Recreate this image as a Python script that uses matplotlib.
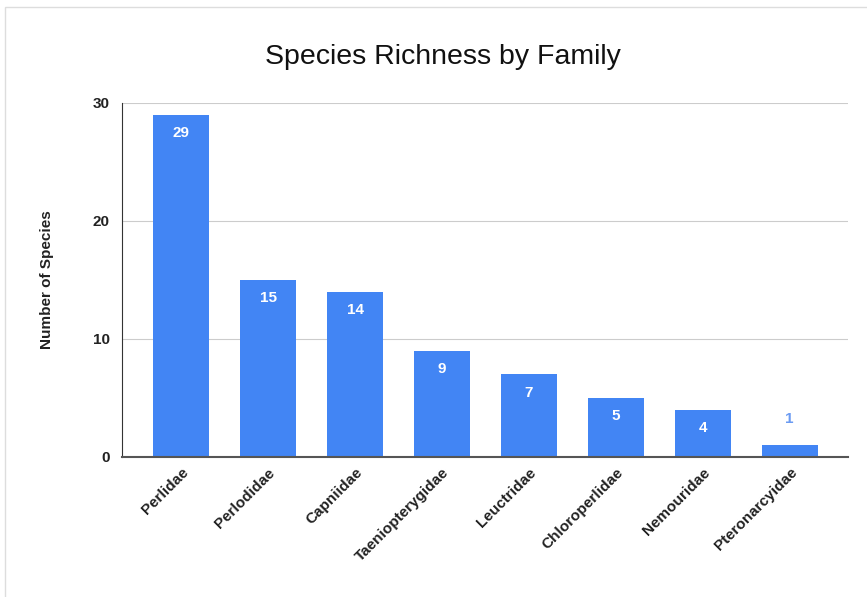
import matplotlib
matplotlib.use("Agg")
import matplotlib.pyplot as plt
from matplotlib.patches import Rectangle

families = ["Perlidae", "Perlodidae", "Capniidae", "Taeniopterygidae",
            "Leuctridae", "Chloroperlidae", "Nemouridae", "Pteronarcyidae"]
species = [29, 15, 14, 9, 7, 5, 4, 1]
yticks = [0, 10, 20, 30]

plt.rcParams['font.family'] = ['Liberation Sans', 'DejaVu Sans']

fig = plt.figure(figsize=(8.67, 5.97), dpi=100)
ax = fig.add_axes([122/867, 1-457/597, (848-122)/867, (457-103)/597])

blue = "#4285F4"
x = list(range(len(families)))
bars = ax.bar(x, species, width=0.64, color=blue, zorder=3)

for xi, v in zip(x, species):
    if v >= 3:
        ax.annotate(str(v), (xi, v), xytext=(0, -8), textcoords="offset points",
                    ha="center", va="top", color="white", fontsize=11, fontweight="bold", zorder=4)
    else:
        ax.annotate(str(v), (xi, v), xytext=(0, 14), textcoords="offset points",
                    ha="center", va="bottom", color="#6b9bf2", fontsize=11, fontweight="bold", zorder=4)

ax.set_xlim(-0.68, len(families) - 1 + 0.67)
ax.set_ylim(0, 30)
ax.set_yticks(yticks)
ax.set_yticklabels([str(t) for t in yticks], fontsize=11, fontweight="bold", color="#222222")
ax.set_xticks(x)
ax.set_xticklabels(families, rotation=45, ha="right", rotation_mode="anchor",
                   fontsize=11, fontweight="bold", color="#222222")
ax.tick_params(axis="y", length=0, pad=9)
ax.tick_params(axis="x", length=0, pad=6)

ax.grid(axis="y", color="#cccccc", linewidth=0.8, zorder=0)
for s in ["top", "right"]:
    ax.spines[s].set_visible(False)
ax.spines["left"].set_color("#333333")
ax.spines["left"].set_linewidth(0.8)
ax.spines["bottom"].set_color("#555555")
ax.spines["bottom"].set_linewidth(1.5)
ax.spines["bottom"].set_zorder(5)

ax.set_ylabel("Number of Species", fontsize=11, fontweight="bold", color="#222222", labelpad=28)
fig.text(443/867, 1-57/597, "Species Richness by Family", ha="center", va="center",
         fontsize=20.5, color="#111111")

fig.patches.append(Rectangle((5/867, -0.01), 1.0, 1-7/597 + 0.01, transform=fig.transFigure,
                             fill=False, edgecolor="#dddddd", linewidth=1))

fig.savefig("out.png", dpi=100)
